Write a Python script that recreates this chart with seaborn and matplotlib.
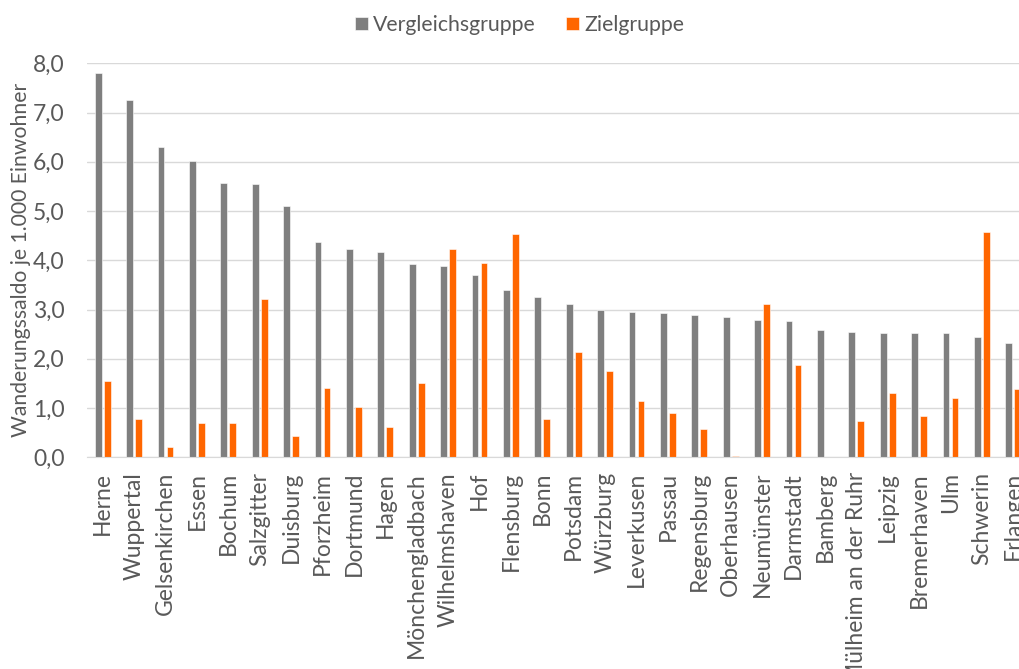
import pandas as pd
import matplotlib
matplotlib.use("Agg")
import matplotlib.pyplot as plt
import seaborn as sns
from matplotlib.ticker import FuncFormatter, MultipleLocator

# Werte
staedte = ['Herne', 'Wuppertal', 'Gelsenkirchen', 'Essen', 'Bochum', 'Salzgitter',
           'Duisburg', 'Pforzheim', 'Dortmund', 'Hagen', 'Mönchengladbach',
           'Wilhelmshaven', 'Hof', 'Flensburg', 'Bonn', 'Potsdam', 'Würzburg',
           'Leverkusen', 'Passau', 'Regensburg', 'Oberhausen', 'Neumünster',
           'Darmstadt', 'Bamberg', 'Mülheim an der Ruhr', 'Leipzig', 'Bremerhaven',
           'Ulm', 'Schwerin', 'Erlangen']
vergleichsgruppe = [7.80, 7.26, 6.30, 6.01, 5.56, 5.54, 5.10, 4.37, 4.22, 4.16,
                    3.93, 3.88, 3.70, 3.39, 3.25, 3.12, 2.99, 2.95, 2.93, 2.89,
                    2.85, 2.78, 2.77, 2.59, 2.55, 2.53, 2.52, 2.52, 2.45, 2.32]
zielgruppe = [1.55, 0.78, 0.20, 0.69, 0.69, 3.21, 0.44, 1.41, 1.02, 0.61,
              1.50, 4.23, 3.94, 4.53, 0.77, 2.13, 1.75, 1.15, 0.90, 0.57,
              0.02, 3.11, 1.87, 0.0, 0.74, 1.31, 0.83, 1.21, 4.58, 1.38]
gruppen = ['Vergleichsgruppe', 'Zielgruppe']
farben = ['#7f7f7f', '#ff6600']

df = pd.DataFrame({
    'Stadt': staedte * 2,
    'Gruppe': [gruppen[0]] * len(staedte) + [gruppen[1]] * len(staedte),
    'Wert': vergleichsgruppe + zielgruppe,
})

sns.set_style("white")
plt.rcParams['font.family'] = ['Lato', 'DejaVu Sans']
textfarbe = '#595959'

fig = plt.figure(figsize=(10.19, 6.69), dpi=100)
ax = fig.add_axes([0.0854, 0.3164, 0.9244, 0.589])

sns.barplot(data=df, x='Stadt', y='Wert', hue='Gruppe', palette=farben,
            width=0.573, gap=0.25, ax=ax, legend=True, saturation=1,
            edgecolor='white', linewidth=0.4)

ax.set_ylim(0, 8)
ax.set_xlim(-0.5, len(staedte) - 0.5)
ax.yaxis.set_major_locator(MultipleLocator(1))
ax.yaxis.set_major_formatter(FuncFormatter(lambda v, p: f"{v:.1f}".replace('.', ',')))
ax.grid(axis='y', color='#d9d9d9', linewidth=1)
ax.set_axisbelow(True)

for s in ['top', 'right', 'left']:
    ax.spines[s].set_visible(False)
ax.spines['bottom'].set_color('#d9d9d9')

ax.tick_params(axis='both', length=0, labelsize=16.5, colors=textfarbe)
ax.tick_params(axis='x', pad=10.5, rotation=90)
ax.tick_params(axis='y', pad=16)

ax.set_xlabel('')
ax.set_ylabel('')
fig.text(21 / 1019, 1 - 260 / 669, 'Wanderungssaldo je 1.000 Einwohner',
         rotation=90, ha='center', va='center', fontsize=15.2, color=textfarbe)

handles, labels = ax.get_legend_handles_labels()
ax.legend(handles, labels, loc='center', bbox_to_anchor=(0.510, 0.963),
          bbox_transform=fig.transFigure, ncol=2, frameon=False,
          fontsize=15.3, labelcolor=textfarbe, handlelength=0.58, handleheight=0.58,
          handletextpad=0.25, columnspacing=1.45)

plt.savefig('out.png', dpi=100)
